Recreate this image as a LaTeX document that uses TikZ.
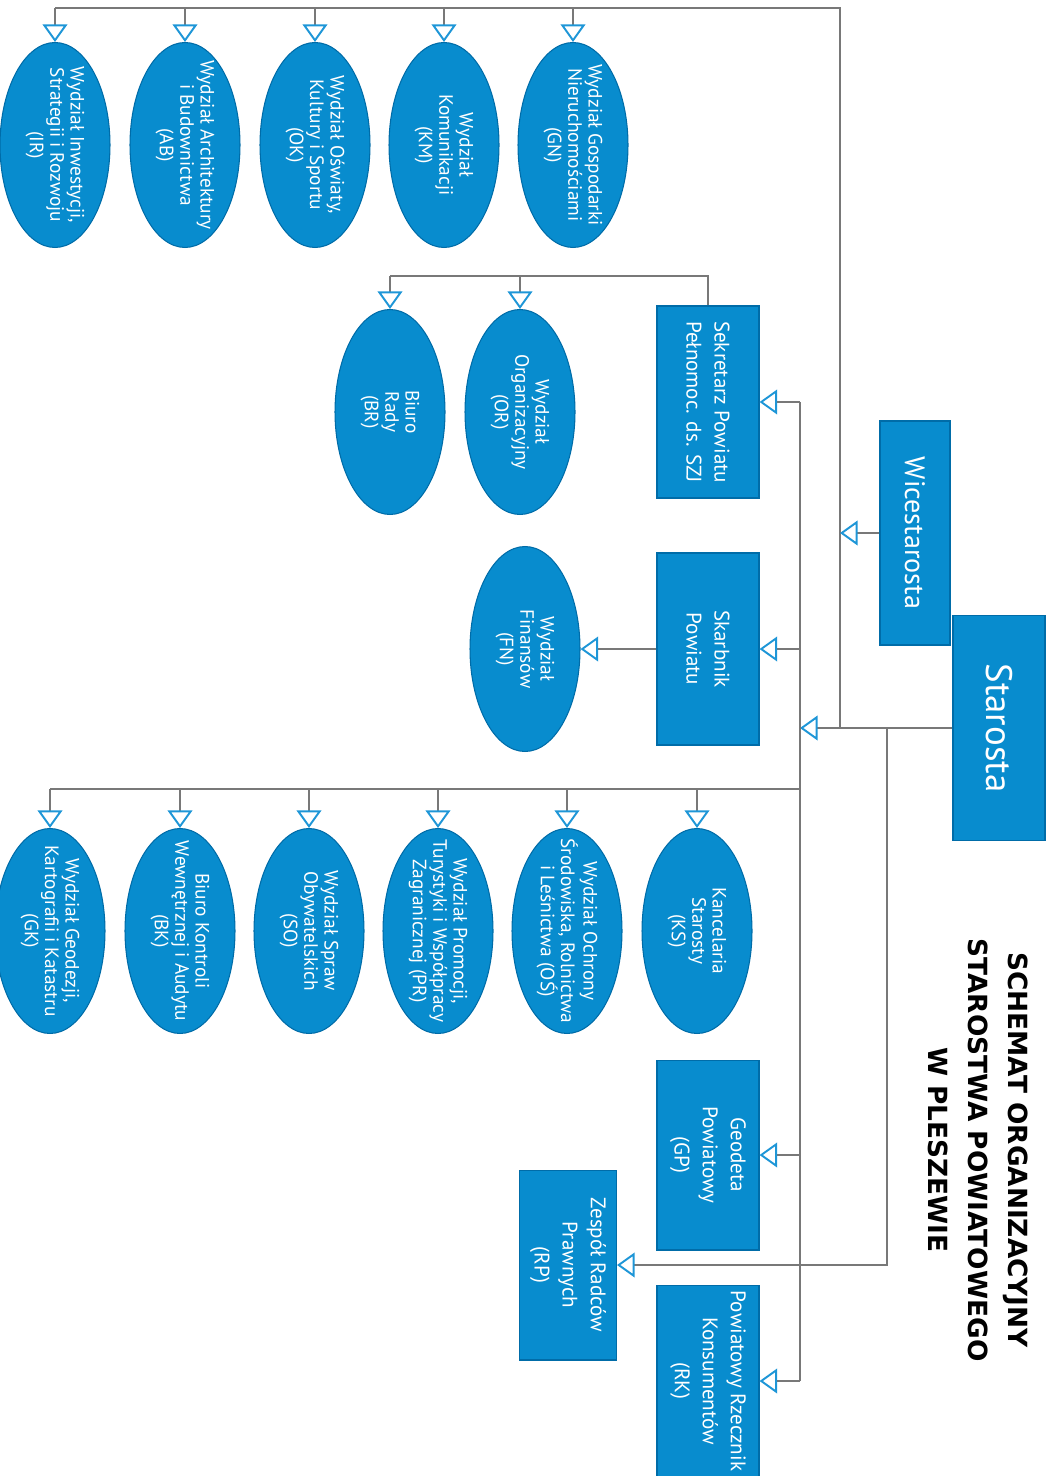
\documentclass[tikz,border=0pt]{standalone}
\usepackage{fontspec}
\setmainfont{PT Sans}
\newfontfamily\headfont{DejaVu Sans}
\usetikzlibrary{shapes.geometric,arrows.meta}
\definecolor{ovalblue}{RGB}{8,140,206}
\definecolor{edgeblue}{RGB}{0,108,168}
\definecolor{tipblue}{RGB}{30,150,215}
\definecolor{linegray}{RGB}{120,120,120}
\tikzset{
  unit/.style={ellipse, fill=ovalblue, draw=edgeblue, line width=0.6pt, text=white, rotate=-90,
    minimum width=4.1cm, minimum height=2.2cm, inner xsep=-14pt, inner ysep=0pt, align=center,
    font=\fontsize{11}{11.6}\selectfont},
  post/.style={rectangle, fill=ovalblue, draw=edgeblue, line width=0.6pt, text=white, rotate=-90,
    minimum width=3.84cm, minimum height=2.04cm, align=center, font=\fontsize{12}{16}\selectfont},
  conn/.style={draw=linegray, line width=0.9pt},
  arr/.style={-{Triangle[open, width=14pt, length=10pt, color=tipblue, line width=1.1pt]}}
}
\begin{document}
\begin{tikzpicture}[x=0.02cm,y=-0.02cm]
\useasboundingbox (0,0) rectangle (1061,1476);

\node[post, minimum width=4.5cm, minimum height=1.84cm, font=\fontsize{21}{24}\selectfont] (starosta) at (999,728) {Starosta};
\node[post, minimum width=4.48cm, minimum height=1.4cm, font=\fontsize{16}{20}\selectfont] (wice) at (915,533) {Wicestarosta};
\node[rotate=-90, align=center, font=\headfont\bfseries\fontsize{15}{23}\selectfont] (title) at (978,1150)
  {SCHEMAT ORGANIZACYJNY\\STAROSTWA POWIATOWEGO\\W PLESZEWIE};

\node[post] (sek) at (708,402) {Sekretarz Powiatu\\Pełnomoc. ds. SZJ};
\node[post] (skarb) at (708,649) {Skarbnik\\Powiatu};
\node[post, minimum width=3.8cm] (gp) at (708,1155) {Geodeta\\Powiatowy\\(GP)};
\node[post, minimum width=3.8cm, minimum height=1.94cm] (rp) at (568,1265) {Zespół Radców\\Prawnych\\(RP)};
\node[post] (rk) at (708,1381) {Powiatowy Rzecznik\\Konsumentów\\(RK)};

% wydzialy - gora
\node[unit] (ir) at (55,145) {Wydział Inwestycji,\\Strategii i Rozwoju\\(IR)};
\node[unit] (ab) at (185,145) {Wydział Architektury\\i Budownictwa\\(AB)};
\node[unit] (ok) at (315,145) {Wydział Oświaty,\\Kultury i Sportu\\(OK)};
\node[unit] (km) at (444,145) {Wydział\\Komunikacji\\(KM)};
\node[unit] (gn) at (573,145) {Wydział Gospodarki\\Nieruchomościami\\(GN)};

\node[unit] (or) at (520,412) {Wydział\\Organizacyjny\\(OR)};
\node[unit] (br) at (390,412) {Biuro\\Rady\\(BR)};
\node[unit] (fn) at (525,649) {Wydział\\Finansów\\(FN)};

% wydzialy - dol
\node[unit] (gk) at (50,931) {Wydział Geodezji,\\Kartografii i Katastru\\(GK)};
\node[unit] (bk) at (180,931) {Biuro Kontroli\\Wewnętrznej i Audytu\\(BK)};
\node[unit] (so) at (309,931) {Wydział Spraw\\Obywatelskich\\(SO)};
\node[unit] (pr) at (438,931) {Wydział Promocji,\\Turystyki i Współpracy\\Zagranicznej (PR)};
\node[unit] (os) at (567,931) {Wydział Ochrony\\Środowiska, Rolnictwa\\i Leśnictwa (OŚ)};
\node[unit] (ks) at (697,931) {Kancelaria\\Starosty\\(KS)};

\coordinate (sbus) at (800,728);
\coordinate (wj) at (840,728);
\coordinate (rj) at (887,728);
\coordinate (topbus) at (840,8);
\coordinate (lowbus) at (800,789);
\coordinate (sekbus) at (708,276);

\draw[conn,arr] (starosta.south) -- (sbus);
\draw[conn] (wj) -- (topbus) -- (ir.west |- topbus);
\draw[conn,arr] (wice.south) -- (wice.south -| wj);
\draw[conn,arr] (rj) |- (rp.north);
\draw[conn] (sek.north -| sbus) -- (rk.north -| sbus);
\foreach \p in {sek,skarb,gp,rk}
  \draw[conn,arr] (\p.north -| sbus) -- (\p.north);
\foreach \u in {ir,ab,ok,km,gn}
  \draw[conn,arr] (\u.west |- topbus) -- (\u.west);
\draw[conn] (sek.west) -- (sekbus) -- (br.west |- sekbus);
\foreach \u in {or,br}
  \draw[conn,arr] (\u.west |- sekbus) -- (\u.west);
\draw[conn,arr] (skarb.south) -- (fn.north);
\draw[conn] (lowbus) -- (gk.west |- lowbus);
\foreach \u in {gk,bk,so,pr,os,ks}
  \draw[conn,arr] (\u.west |- lowbus) -- (\u.west);
\end{tikzpicture}
\end{document}
